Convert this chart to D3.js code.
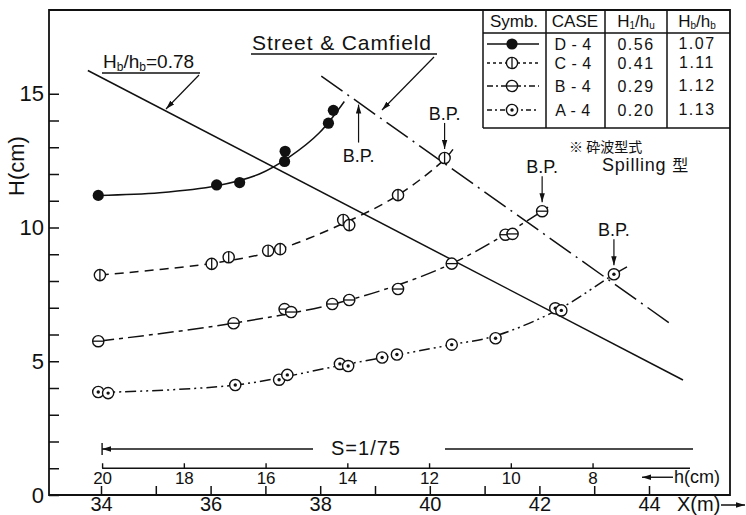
<!DOCTYPE html>
<html>
<head>
<meta charset="utf-8">
<script src="https://cdn.jsdelivr.net/npm/d3@7"></script>
<style>
  body { margin: 0; background: #fff; }
  svg { display: block; }
  text { font-family: "Liberation Sans", Arial, sans-serif; fill: #111; }
  .cjk { font-family: "Noto Sans CJK JP", "Noto Sans CJK SC", sans-serif; }
</style>
</head>
<body>
<svg id="chart" width="746" height="515"></svg>
<script>
// ---- measured wave height H (cm) versus distance X (m) ----
const caseD4 = [[33.95,11.2],[36.11,11.59],[36.53,11.68],[37.35,12.47],[37.36,12.85],[38.15,13.9],[38.24,14.38]];
const caseC4 = [[33.98,8.22],[36.02,8.64],[36.33,8.89],[37.05,9.13],[37.27,9.19],[38.42,10.28],[38.53,10.09],[39.42,11.21],[40.27,12.6]];
const caseB4 = [[33.95,5.75],[36.42,6.42],[37.35,6.95],[37.47,6.84],[38.22,7.14],[38.53,7.29],[39.42,7.7],[40.4,8.65],[41.38,9.73],[41.51,9.76],[42.05,10.61]];
const caseA4 = [[33.95,3.85],[34.13,3.81],[36.45,4.11],[37.25,4.31],[37.4,4.49],[38.36,4.9],[38.51,4.82],[39.13,5.14],[39.4,5.25],[40.4,5.62],[41.2,5.86],[42.29,6.98],[42.4,6.9],[43.36,8.25]];

// ---- hand-faired trend curves through each case ----
const fitD4 = [[33.95,11.2],[35.07,11.3],[36.11,11.56],[36.89,12.0],[37.44,12.64],[37.98,13.53],[38.44,14.71]];
const fitC4 = [[33.98,8.22],[36.02,8.66],[37.16,9.13],[38.44,10.17],[39.42,11.21],[40.27,12.55],[40.44,12.97]];
const fitB4 = [[33.95,5.75],[36.42,6.42],[38.53,7.29],[40.4,8.65],[42.05,10.61],[42.22,10.86]];
const fitA4 = [[33.95,3.83],[36.45,4.11],[38.44,4.87],[40.4,5.62],[41.2,5.95],[42.35,6.94],[43.36,8.25],[43.65,8.59]];

// ---- breaking criteria ----
const limit078 = [[33.76,15.87],[44.62,4.3]];          // Hb/hb = 0.78
const streetCamfield = [[38.02,15.66],[44.4,6.39]];    // Street & Camfield

// ---- breaking points (B.P.) ----
const breakPoints = [[38.7,14.67],[40.27,12.6],[42.05,10.61],[43.36,8.25]];

// ---- axes ----
const xTicks = d3.range(34, 45);
const xLabels = [34,36,38,40,42,44];
const yTicks = d3.range(0, 16);
const yLabels = [0,5,10,15];
const hTicks = [20,18,16,14,12,10,8];

// ---- legend table ----
const legendCases = ["D - 4","C - 4","B - 4","A - 4"];
const legendH1hu = ["0.56","0.41","0.29","0.20"];
const legendHbhb = ["1.07","1.11","1.12","1.13"];

const svg = d3.select("#chart");
const x = d3.scaleLinear().domain([34, 44]).range([101, 649]);
const y = d3.scaleLinear().domain([0, 15]).range([495, 93.75]);
const h = d3.scaleLinear().domain([20, 8]).range([x(34.02), x(42.97)]);

const frame = { left: 49, right: 730, top: 10, bottom: y(0) };
const ink = "#111";

const defs = svg.append("defs");
defs.append("marker").attr("id", "arrow").attr("viewBox", "0 0 10 6")
  .attr("refX", 10).attr("refY", 3).attr("markerWidth", 9).attr("markerHeight", 6)
  .attr("markerUnits", "userSpaceOnUse").attr("orient", "auto")
  .append("path").attr("d", "M0,0 L10,3 L0,6 Z").attr("fill", ink);

// frame
svg.append("path")
  .attr("d", `M${frame.left},${frame.bottom} V${frame.top} H${frame.right} V${frame.bottom} Z`)
  .attr("fill", "none").attr("stroke", ink).attr("stroke-width", 1.8);

// x axis (ticks point inward)
const gx = svg.append("g").attr("transform", `translate(0,${frame.bottom})`)
  .call(d3.axisBottom(x).tickValues(xTicks).tickSizeInner(-9).tickSizeOuter(0).tickPadding(2)
    .tickFormat(d => xLabels.includes(d) ? d : ""));
gx.select(".domain").remove();
gx.selectAll(".tick line").attr("stroke", ink).attr("stroke-width", 1.5);
gx.selectAll(".tick text").attr("font-size", 20).attr("fill", ink);

// y axis (ticks point inward)
const gy = svg.append("g").attr("transform", `translate(${frame.left},0)`)
  .call(d3.axisLeft(y).tickValues(yTicks).tickSizeInner(-10).tickSizeOuter(0).tickPadding(5)
    .tickFormat(d => yLabels.includes(d) ? d : ""));
gy.select(".domain").remove();
gy.selectAll(".tick line").attr("stroke", ink).attr("stroke-width", 1.5);
gy.selectAll(".tick text").attr("font-size", 22).attr("fill", ink);

svg.append("text").attr("transform", "translate(24,166) rotate(-90)")
  .attr("text-anchor", "middle").attr("font-size", 22).text("H(cm)");

// X(m) label with arrow
svg.append("text").attr("x", 677).attr("y", 511).attr("font-size", 20).text("X(m)");
svg.append("line").attr("x1", 721).attr("y1", 505).attr("x2", 745).attr("y2", 505)
  .attr("stroke", ink).attr("stroke-width", 1.5).attr("marker-end", "url(#arrow)");

// water depth h axis (slope 1/75)
const hY = y(1.0);
svg.append("line").attr("x1", h(20)).attr("x2", 690).attr("y1", hY).attr("y2", hY)
  .attr("stroke", ink).attr("stroke-width", 1.6);
const gh = svg.append("g").attr("transform", `translate(0,${hY})`)
  .call(d3.axisBottom(h).tickValues(hTicks).tickSizeInner(-5).tickSizeOuter(0).tickPadding(4));
gh.select(".domain").remove();
gh.selectAll(".tick line").attr("stroke", ink).attr("stroke-width", 1.4);
gh.selectAll(".tick text").attr("font-size", 17).attr("fill", ink);
svg.append("line").attr("x1", 673).attr("x2", 642).attr("y1", hY + 9).attr("y2", hY + 9)
  .attr("stroke", ink).attr("stroke-width", 1.4).attr("marker-end", "url(#arrow)");
svg.append("text").attr("x", 674).attr("y", hY + 15).attr("font-size", 18).text("h(cm)");

// slope annotation
const sY = y(1.72);
svg.append("line").attr("x1", 313).attr("x2", h(20)).attr("y1", sY).attr("y2", sY)
  .attr("stroke", ink).attr("stroke-width", 1.6).attr("marker-end", "url(#arrow)");
svg.append("line").attr("x1", h(20)).attr("x2", h(20)).attr("y1", sY - 6).attr("y2", sY + 6)
  .attr("stroke", ink).attr("stroke-width", 1.4);
svg.append("line").attr("x1", 445).attr("x2", 693).attr("y1", sY).attr("y2", sY)
  .attr("stroke", ink).attr("stroke-width", 1.6);
svg.append("text").attr("x", 366).attr("y", sY + 6).attr("text-anchor", "middle")
  .attr("font-size", 20).attr("letter-spacing", 1).text("S=1/75");

// breaking criteria lines
const straight = d3.line().x(d => x(d[0])).y(d => y(d[1]));
svg.append("path").attr("d", straight(limit078)).attr("fill", "none")
  .attr("stroke", ink).attr("stroke-width", 1.5);
svg.append("path").attr("d", straight(streetCamfield)).attr("fill", "none")
  .attr("stroke", ink).attr("stroke-width", 1.5).attr("stroke-dasharray", "26,6,2,6");

// trend curves
const smooth = d3.line().x(d => x(d[0])).y(d => y(d[1])).curve(d3.curveCatmullRom.alpha(0.5));
const series = [
  { fit: fitD4, pts: caseD4, dash: null, kind: "D" },
  { fit: fitC4, pts: caseC4, dash: "9,6", kind: "C" },
  { fit: fitB4, pts: caseB4, dash: "16,5,4,5", kind: "B" },
  { fit: fitA4, pts: caseA4, dash: "11,4,2,4,2,4", kind: "A" }
];
series.forEach(s => {
  svg.append("path").attr("d", smooth(s.fit)).attr("fill", "none")
    .attr("stroke", ink).attr("stroke-width", 1.5)
    .attr("stroke-dasharray", s.dash);
});

// point symbols
function drawSymbol(g, kind, cx, cy, r) {
  const c = g.append("g").attr("transform", `translate(${cx},${cy})`);
  if (kind === "D") {
    c.append("circle").attr("r", r).attr("fill", ink);
    return;
  }
  c.append("circle").attr("r", r).attr("fill", "#fff").attr("stroke", ink).attr("stroke-width", 1.4);
  if (kind === "C") c.append("line").attr("x1", 0).attr("x2", 0).attr("y1", -r).attr("y2", r)
    .attr("stroke", ink).attr("stroke-width", 1.3);
  if (kind === "B") c.append("line").attr("x1", -r).attr("x2", r).attr("y1", 0).attr("y2", 0)
    .attr("stroke", ink).attr("stroke-width", 1.3);
  if (kind === "A") c.append("circle").attr("r", 1.7).attr("fill", ink);
}
const gp = svg.append("g");
series.forEach(s => s.pts.forEach(p => drawSymbol(gp, s.kind, x(p[0]), y(p[1]), 5.6)));

// B.P. arrows
breakPoints.forEach((p, i) => {
  const px = x(p[0]), py = y(p[1]);
  if (i === 0) {
    const tip = py + 2, tail = tip + 38;
    svg.append("line").attr("x1", px).attr("x2", px).attr("y1", tail).attr("y2", tip)
      .attr("stroke", ink).attr("stroke-width", 1.2).attr("marker-end", "url(#arrow)");
    svg.append("text").attr("x", px).attr("y", tail + 19).attr("text-anchor", "middle")
      .attr("font-size", 18).text("B.P.");
  } else {
    const tip = py - 9, tail = tip - 26;
    svg.append("line").attr("x1", px).attr("x2", px).attr("y1", tail).attr("y2", tip)
      .attr("stroke", ink).attr("stroke-width", 1.2).attr("marker-end", "url(#arrow)");
    svg.append("text").attr("x", px).attr("y", tail - 3).attr("text-anchor", "middle")
      .attr("font-size", 18).text("B.P.");
  }
});

// criterion labels with leaders
const l1 = svg.append("text").attr("x", 103).attr("y", 68).attr("font-size", 19);
l1.append("tspan").text("H");
l1.append("tspan").attr("font-size", 12).attr("dy", 3).text("b");
l1.append("tspan").attr("dy", -3).text("/h");
l1.append("tspan").attr("font-size", 12).attr("dy", 3).text("b");
l1.append("tspan").attr("dy", -3).text("=0.78");
svg.append("line").attr("x1", 102).attr("x2", 200).attr("y1", 73).attr("y2", 73)
  .attr("stroke", ink).attr("stroke-width", 1.4);
svg.append("line").attr("x1", 199).attr("y1", 75).attr("x2", 166).attr("y2", 109)
  .attr("stroke", ink).attr("stroke-width", 1.2).attr("marker-end", "url(#arrow)");

svg.append("text").attr("x", 252).attr("y", 50).attr("font-size", 21)
  .attr("letter-spacing", 0.9).text("Street & Camfield");
svg.append("line").attr("x1", 251).attr("x2", 437).attr("y1", 54).attr("y2", 54)
  .attr("stroke", ink).attr("stroke-width", 1.4);
svg.append("line").attr("x1", 434).attr("y1", 57).attr("x2", 382).attr("y2", 110)
  .attr("stroke", ink).attr("stroke-width", 1.2).attr("marker-end", "url(#arrow)");

// legend table
const tb = { left: 483, right: frame.right, top: frame.top, head: 33, bottom: 128 };
const cols = [546, 605, 667];
const gt = svg.append("g").attr("stroke", ink).attr("stroke-width", 1.5);
gt.append("line").attr("x1", tb.left).attr("x2", tb.left).attr("y1", tb.top).attr("y2", tb.bottom);
cols.forEach(cx => gt.append("line").attr("x1", cx).attr("x2", cx).attr("y1", tb.top).attr("y2", tb.bottom));
gt.append("line").attr("x1", tb.left).attr("x2", tb.right).attr("y1", tb.head).attr("y2", tb.head);
gt.append("line").attr("x1", tb.left).attr("x2", tb.right).attr("y1", tb.bottom).attr("y2", tb.bottom);

const headY = 27;
svg.append("text").attr("x", 514).attr("y", headY).attr("text-anchor", "middle").attr("font-size", 17).text("Symb.");
svg.append("text").attr("x", 575).attr("y", headY).attr("text-anchor", "middle").attr("font-size", 17).text("CASE");
const hd1 = svg.append("text").attr("x", 636).attr("y", headY).attr("text-anchor", "middle").attr("font-size", 17);
hd1.append("tspan").text("H");
hd1.append("tspan").attr("font-size", 10).attr("dy", 2).text("1");
hd1.append("tspan").attr("dy", -2).text("/h");
hd1.append("tspan").attr("font-size", 10).attr("dy", 2).text("u");
const hd2 = svg.append("text").attr("x", 697).attr("y", headY).attr("text-anchor", "middle").attr("font-size", 17);
hd2.append("tspan").text("H");
hd2.append("tspan").attr("font-size", 10).attr("dy", 2).text("b");
hd2.append("tspan").attr("dy", -2).text("/h");
hd2.append("tspan").attr("font-size", 10).attr("dy", 2).text("b");

const rowY = [50, 69, 92, 116];
const gl = svg.append("g");
series.forEach((s, i) => {
  const cy = rowY[i] - 6;
  gl.append("line").attr("x1", 487).attr("x2", 539).attr("y1", cy).attr("y2", cy)
    .attr("stroke", ink).attr("stroke-width", 1.4)
    .attr("stroke-dasharray", i === 0 ? null : (i === 1 ? "3,3" : (i === 2 ? "6,3,2,3" : "5,3,2,3")));
  drawSymbol(gl, s.kind, 512, cy, 5.6);
  svg.append("text").attr("x", 573).attr("y", rowY[i]).attr("text-anchor", "middle")
    .attr("font-size", 16).attr("letter-spacing", 0.5).text(legendCases[i]);
  svg.append("text").attr("x", 636).attr("y", rowY[i]).attr("text-anchor", "middle")
    .attr("font-size", 16).attr("letter-spacing", 1.5).text(legendH1hu[i]);
  svg.append("text").attr("x", 697).attr("y", rowY[i] - 1).attr("text-anchor", "middle")
    .attr("font-size", 16).attr("letter-spacing", 1.5).text(legendHbhb[i]);
});

// breaker type note
svg.append("text").attr("class", "cjk").attr("x", 569).attr("y", 152).attr("font-size", 14)
  .text("※ 砕波型式");
const sp = svg.append("text").attr("x", 602).attr("y", 171).attr("font-size", 18).attr("letter-spacing", 0.8);
sp.append("tspan").text("Spilling ");
sp.append("tspan").attr("class", "cjk").attr("font-size", 16).text("型");
</script>
</body>
</html>
